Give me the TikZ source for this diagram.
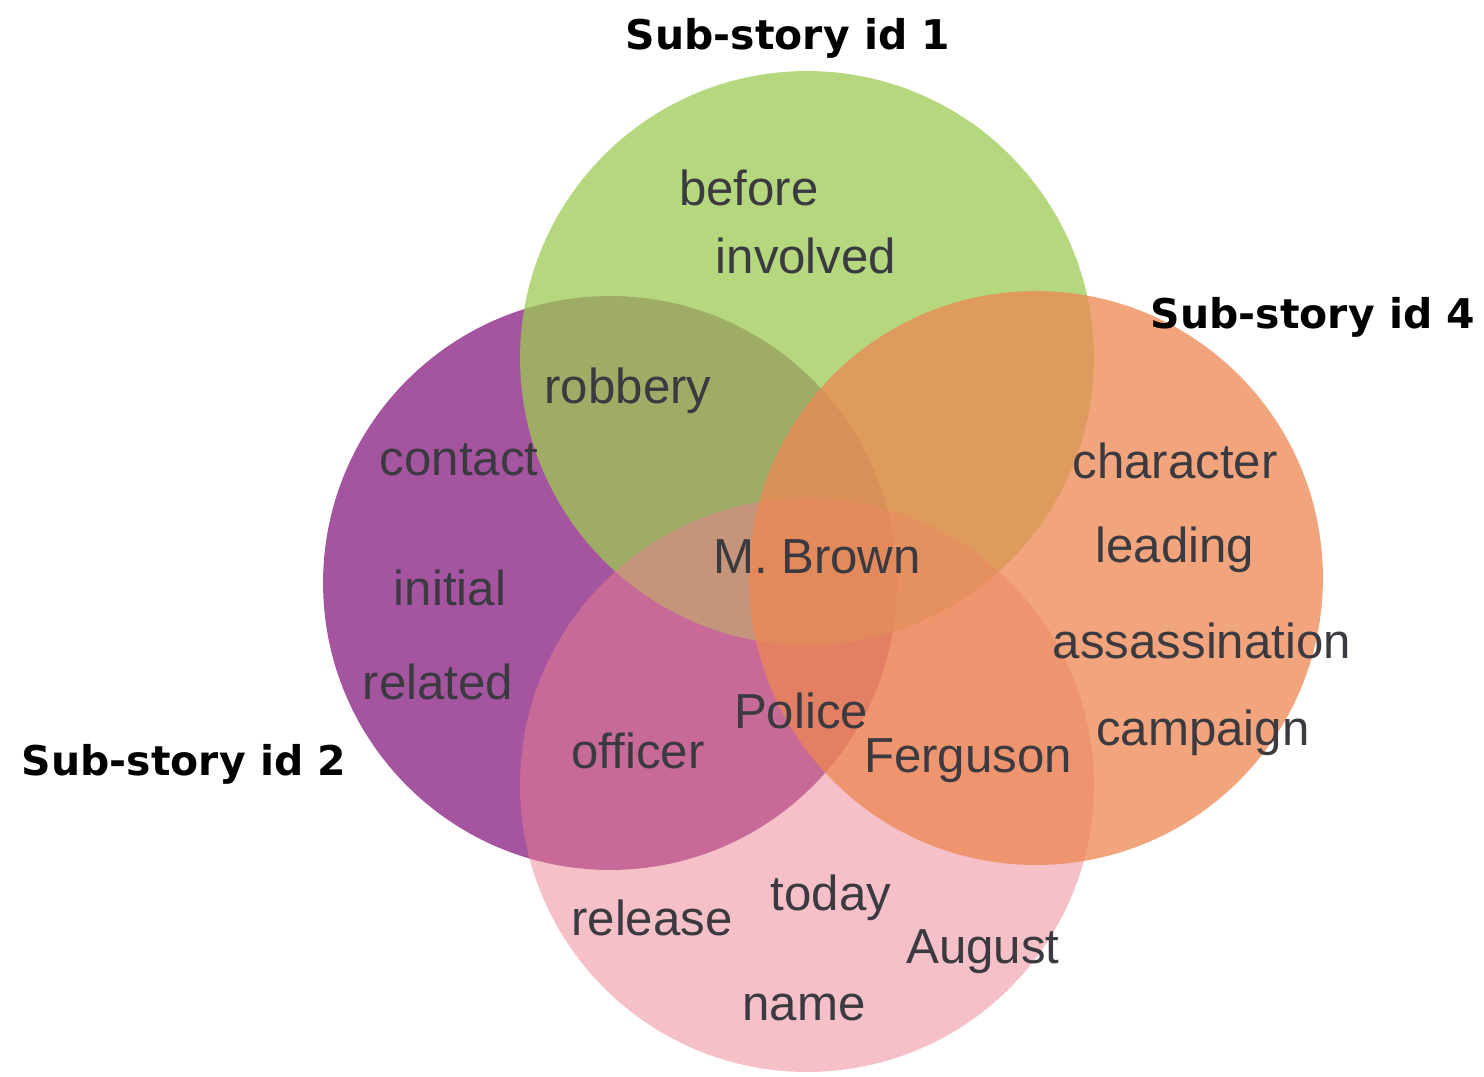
\documentclass[tikz,border=0pt]{standalone}
\usepackage{fontspec}
\setmainfont{Liberation Sans}
\newfontfamily\storyfont{DejaVu Sans}
\usetikzlibrary{positioning}
\definecolor{greencolor}{RGB}{156,201,83}
\definecolor{purplecolor}{RGB}{135,28,128}
\definecolor{orangecolor}{RGB}{237,135,82}
\definecolor{pinkcolor}{RGB}{235,129,145}
\definecolor{wordcolor}{RGB}{58,58,64}

\begin{document}
\begin{tikzpicture}[
	x=0.02cm,
	y=-0.02cm,
	story/.style={
		circle,
		fill=#1,
		fill opacity=0.75,
		minimum size=11.48cm,
		inner sep=0pt
	},
	word/.style={
		anchor=base,
		font=\fontsize{28}{34}\selectfont,
		text=wordcolor
	},
	title/.style={
		font=\storyfont\bfseries\fontsize{23.3}{28}\selectfont,
		text=black
	}
	]
	\useasboundingbox (0,0) rectangle (1484,1076);
	
	% Sub-story circles
	\node[story=purplecolor] (sub2) at (610,583) {};
	\node[story=greencolor] (sub1) at (807,358) {};
	\node[story=pinkcolor, fill opacity=0.5] (sub3) at (807,785) {};
	\node[story=orangecolor] (sub4) at (1036,578) {};
	
	% Sub-story titles
	\node[title] (sub1-title) at (788,38) {Sub-story id 1};
	\node[title] (sub2-title) at (184,764) {Sub-story id 2};
	\node[title] (sub4-title) at (1313,317) {Sub-story id 4};
	
	% Words of sub-story 1
	\node[word] (before) at (749,205) {before};
	\node[word] (involved) at (806,273) {involved};
	\node[word] (robbery) at (628,403) {robbery};
	
	% Words of sub-story 2
	\node[word] (contact) at (459,475) {contact};
	\node[word] (initial) at (450,605) {initial};
	\node[word] (related) at (438,699) {related};
	\node[word] (officer) at (638,768) {officer};
	
	% Words of sub-story 4
	\node[word] (character) at (1175,478) {character};
	\node[word] (leading) at (1175,562) {leading};
	\node[word] (assassination) at (1202,658) {assassination};
	\node[word] (campaign) at (1203,745) {campaign};
	\node[word] (ferguson) at (968,772) {Ferguson};
	
	% Shared words
	\node[word] (brown) at (817,573) {M. Brown};
	\node[word] (police) at (801,728) {Police};
	
	% Words of the bottom circle
	\node[word] (release) at (652,935) {release};
	\node[word] (today) at (831,910) {today};
	\node[word] (august) at (983,963) {August};
	\node[word] (name) at (804,1020) {name};
	
\end{tikzpicture}
\end{document}
